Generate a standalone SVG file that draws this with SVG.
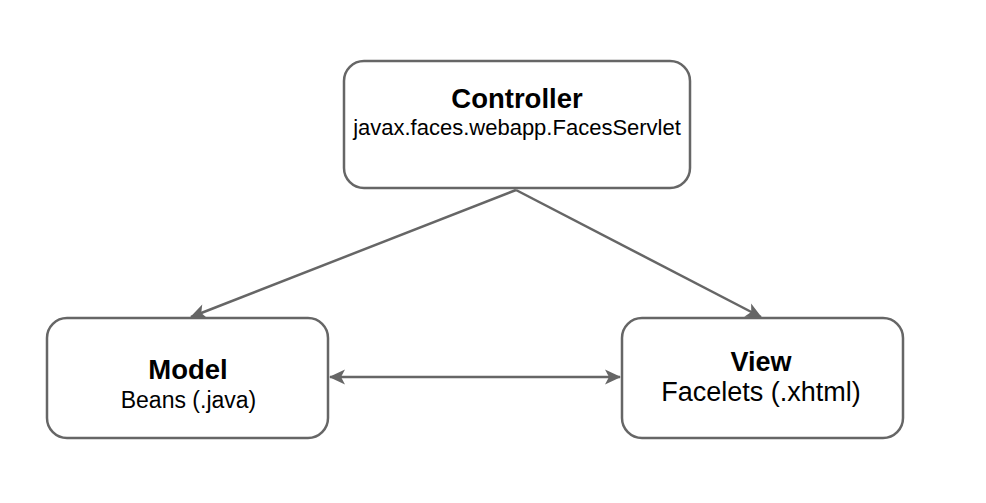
<svg xmlns="http://www.w3.org/2000/svg" width="986" height="503" viewBox="0 0 986 503">
<style>
.box{fill:#fff;stroke:#666;stroke-width:2.5}
.edge{stroke:#666;stroke-width:2.5;fill:none}
text{font-family:"Liberation Sans",Arial,sans-serif;fill:#000;text-anchor:middle}
.b{font-weight:bold}
</style>
<defs>
<marker id="ah" markerUnits="userSpaceOnUse" orient="auto-start-reverse" refX="0" refY="0" markerWidth="20" markerHeight="20" style="overflow:visible">
<path d="M1,0 L-15,-7.5 L-11,0 L-15,7.5 Z" fill="#666" stroke="none"/>
</marker>
</defs>
<rect width="986" height="503" fill="#fff"/>
<g id="edges">
<path class="edge" d="M516,190 L191,317" marker-end="url(#ah)"/>
<path class="edge" d="M516,190 L761,317" marker-end="url(#ah)"/>
<path class="edge" d="M330,377 L620,377" marker-start="url(#ah)" marker-end="url(#ah)"/>
</g>
<g id="controller">
<rect class="box" x="344" y="61" width="346" height="127" rx="20"/>
<text x="517" y="108" class="b" font-size="27.5">Controller</text>
<text x="517" y="135" font-size="22">javax.faces.webapp.FacesServlet</text>
</g>
<g id="model">
<rect class="box" x="47" y="318" width="281" height="120" rx="20"/>
<text x="188" y="379" class="b" font-size="27.5">Model</text>
<text x="188.5" y="408" font-size="23">Beans (.java)</text>
</g>
<g id="view">
<rect class="box" x="622" y="318" width="281" height="120" rx="20"/>
<text x="761" y="371" class="b" font-size="27">View</text>
<text x="761" y="401" font-size="27">Facelets (.xhtml)</text>
</g>
</svg>
